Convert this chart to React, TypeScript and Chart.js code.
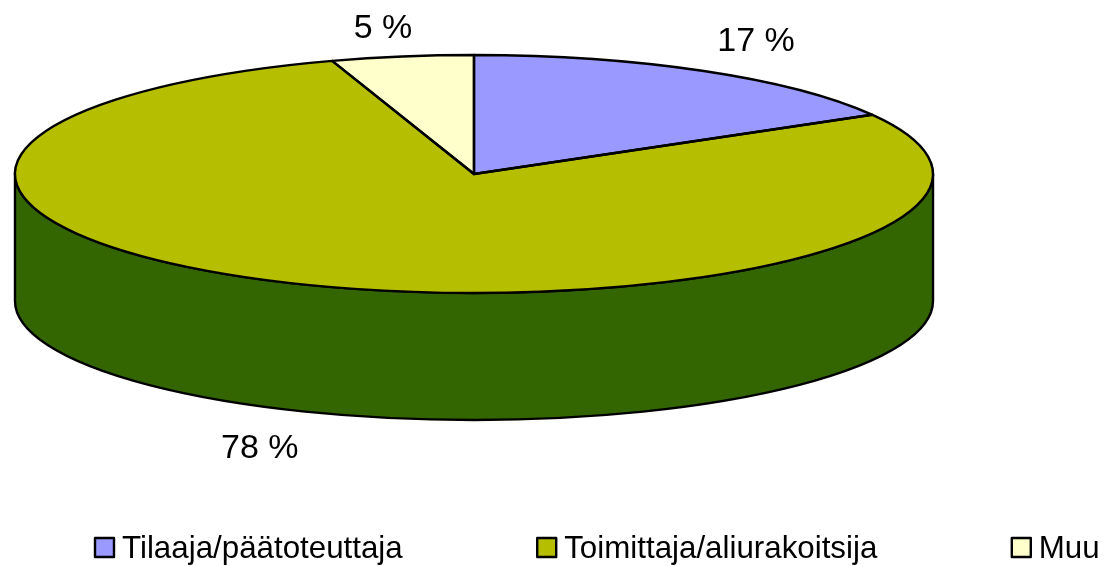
import React, { useEffect, useRef } from "react";
import { Chart, registerables } from "chart.js";

Chart.register(...registerables);

const categories = ["Tilaaja/päätoteuttaja", "Toimittaja/aliurakoitsija", "Muu"];
const shares = [16.7, 78.3, 5];
const topColors = ["#9999FF", "#B5BF00", "#FFFFCC"];
const wallColors = ["#4D4D80", "#336600", "#808066"];
const valueLabels = ["17 %", "78 %", "5 %"];
const labelReachX = [563, 596, 582];
const labelReachY = [155, 156.5, 149];

const CENTER_X = 474;
const CENTER_Y = 174;
const RADIUS_X = 459;
const RADIUS_Y = 119;
const DEPTH = 127;
const LINE = 2.4;
const FONT = '"Liberation Sans", Arial, sans-serif';

function ellipsePath(ctx: CanvasRenderingContext2D, cy: number, a0: number, a1: number, ccw = false) {
  ctx.ellipse(CENTER_X, cy, RADIUS_X, RADIUS_Y, 0, a0, a1, ccw);
}

const pie3d = {
  id: "pie3d",
  beforeDatasetDraw(chart: any) {
    const ctx: CanvasRenderingContext2D = chart.ctx;
    const arcs = chart.getDatasetMeta(0).data;
    // front wall of the disc, from the angles the library computed
    arcs.forEach((arc: any, i: number) => {
      const tau = Math.PI * 2;
      for (const shift of [0, -tau]) {
        const s = Math.max(arc.startAngle + shift, 0);
        const e = Math.min(arc.endAngle + shift, Math.PI);
        if (e <= s) continue;
        ctx.beginPath();
        ellipsePath(ctx, CENTER_Y, s, e);
        ellipsePath(ctx, CENTER_Y + DEPTH, e, s, true);
        ctx.closePath();
        ctx.fillStyle = wallColors[i];
        ctx.fill();
        ctx.lineWidth = LINE;
        ctx.strokeStyle = "#000";
        ctx.lineJoin = "round";
        ctx.stroke();
      }
    });
    // squash the library's circular arcs into the disc's top ellipse
    const a = arcs[0];
    ctx.save();
    ctx.translate(CENTER_X, CENTER_Y);
    ctx.scale(RADIUS_X / a.outerRadius, RADIUS_Y / a.outerRadius);
    ctx.translate(-a.x, -a.y);
  },
  afterDatasetDraw(chart: any) {
    const ctx: CanvasRenderingContext2D = chart.ctx;
    ctx.restore();
    const arcs = chart.getDatasetMeta(0).data;
    // uniform outlines, stroked outside the squash
    arcs.forEach((arc: any) => {
      ctx.beginPath();
      ctx.moveTo(CENTER_X, CENTER_Y);
      ellipsePath(ctx, CENTER_Y, arc.startAngle, arc.endAngle);
      ctx.closePath();
      ctx.lineWidth = LINE;
      ctx.lineJoin = "round";
      ctx.strokeStyle = "#000";
      ctx.stroke();
    });
    // value labels, placed from each slice's middle angle
    ctx.font = `34px ${FONT}`;
    ctx.fillStyle = "#000";
    ctx.textAlign = "center";
    ctx.textBaseline = "middle";
    arcs.forEach((arc: any, i: number) => {
      const mid = (arc.startAngle + arc.endAngle) / 2;
      const sin = Math.sin(mid);
      const x = CENTER_X + Math.cos(mid) * labelReachX[i];
      const y = CENTER_Y + sin * labelReachY[i] + (sin > 0 ? DEPTH : 0) + 2;
      ctx.fillText(valueLabels[i], x, y);
    });
    // legend row: equal gaps between entries
    ctx.font = `31.3px ${FONT}`;
    ctx.textAlign = "left";
    ctx.textBaseline = "alphabetic";
    let x = 95;
    categories.forEach((text, i) => {
      ctx.fillStyle = topColors[i];
      ctx.fillRect(x, 538, 19, 19);
      ctx.lineWidth = LINE;
      ctx.strokeStyle = "#000";
      ctx.strokeRect(x, 538, 19, 19);
      ctx.fillStyle = "#000";
      ctx.fillText(text, x + 27, 558);
      x += 27 + ctx.measureText(text).width + 134.5;
    });
  },
};

export default function App() {
  const ref = useRef<HTMLCanvasElement>(null);
  useEffect(() => {
    document.body.style.margin = "0";
    const chart = new Chart(ref.current!, {
      type: "pie",
      data: {
        labels: categories,
        datasets: [
          {
            data: shares,
            backgroundColor: topColors,
            borderWidth: 0,
          },
        ],
      },
      options: {
        animation: false,
        responsive: false,
        plugins: {
          tooltip: { enabled: false },
          legend: { display: false },
        },
      },
      plugins: [pie3d],
    } as any);
    return () => chart.destroy();
  }, []);
  return (
    <div style={{ width: 1106, height: 566 }}>
      <canvas ref={ref} width={1106} height={566} style={{ display: "block" }} />
    </div>
  );
}
